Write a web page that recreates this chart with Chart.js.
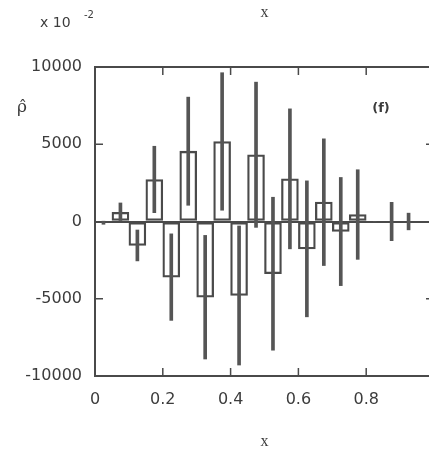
<!DOCTYPE html>
<html>
<head>
<meta charset="utf-8">
<script src="https://cdn.jsdelivr.net/npm/chart.js@4"></script>
<style>
  html, body { margin: 0; padding: 0; background: #fff; overflow: hidden; }
  #wrap { width: 448px; height: 454px; }
</style>
</head>
<body>
<div id="wrap"><canvas id="myChart" width="448" height="454"></canvas></div>
<script>
// bin centres (width 0.05), bin contents and their errors
var binCenters = [0.025, 0.075, 0.125, 0.175, 0.225, 0.275, 0.325, 0.375, 0.425, 0.475,
                  0.525, 0.575, 0.625, 0.675, 0.725, 0.775, 0.825, 0.875, 0.925];
var binValues = [-80, 600, -1550, 2720, -3600, 4550, -4900, 5180, -4790, 4320,
                 -3380, 2760, -1770, 1250, -650, 450, 0, 0, 0];
var binErrors = [100, 600, 1000, 2150, 2800, 3500, 4000, 4450, 4500, 4700,
                 4950, 4530, 4400, 4100, 3500, 2900, 0, 1240, 540];
var xTicks = [0, 0.2, 0.4, 0.6, 0.8, 1];
var yTicks = [-10000, -5000, 0, 5000, 10000];

var lineCol = '#4a4a4a';
var textCol = '#3c3c3c';

// Boxes of the histogram
var boxData = binCenters.map(function(x, i) {
  return { x: x, y: binValues[i] };
});
// Error bars drawn as thin floating bars
var errData = binCenters.map(function(x, i) {
  return { x: x, y: [binValues[i] - binErrors[i], binValues[i] + binErrors[i]] };
});

// Frame, inward ticks and free text
var framePlugin = {
  id: 'frame',
  afterDatasetsDraw: function(chart) {
    var ctx = chart.ctx;
    var a = chart.chartArea;
    var xs = chart.scales.x, ys = chart.scales.y;
    ctx.save();
    ctx.strokeStyle = lineCol;
    ctx.lineWidth = 2;
    ctx.strokeRect(a.left, a.top, a.right - a.left, a.bottom - a.top);

    ctx.lineWidth = 1.5;
    ctx.beginPath();
    xTicks.forEach(function(v) {
      if (v === 0 || v === 1) return;
      var px = xs.getPixelForValue(v);
      ctx.moveTo(px, a.bottom); ctx.lineTo(px, a.bottom - 8);
      ctx.moveTo(px, a.top); ctx.lineTo(px, a.top + 8);
    });
    yTicks.forEach(function(v) {
      if (v === 10000 || v === -10000 || v === 0) return;
      var py = ys.getPixelForValue(v);
      ctx.moveTo(a.left, py); ctx.lineTo(a.left + 8, py);
      ctx.moveTo(a.right, py); ctx.lineTo(a.right - 8, py);
    });
    ctx.stroke();

    ctx.fillStyle = textCol;
    ctx.textBaseline = 'middle';
    ctx.textAlign = 'left';
    ctx.font = '14px "DejaVu Sans"';
    ctx.fillText('x 10', 40, 23);
    ctx.font = '10px "DejaVu Sans"';
    ctx.fillText('-2', 84, 15);

    ctx.textAlign = 'center';
    ctx.font = '16px "Liberation Serif"';
    var mid = xs.getPixelForValue(0.5);
    ctx.fillText('x', mid, 13);
    ctx.fillText('x', mid, 442);
    ctx.font = '17px "DejaVu Serif"';
    ctx.fillText('\u03C1\u0302', 22, 108);
    ctx.font = 'bold 13px "DejaVu Sans"';
    ctx.fillText('(f)', 381, 109);
    ctx.restore();
  }
};

var myChart = new Chart(document.getElementById('myChart').getContext('2d'), {
  type: 'bar',
  data: {
    datasets: [{
      label: 'error',
      data: errData,
      backgroundColor: '#555555',
      borderWidth: 0,
      barThickness: 3,
      grouped: false
    }, {
      label: 'bins',
      data: boxData,
      backgroundColor: 'rgba(0,0,0,0)',
      borderColor: lineCol,
      borderWidth: 1.6,
      borderSkipped: false,
      categoryPercentage: 1,
      barPercentage: 1,
      grouped: false
    }]
  },
  options: {
    responsive: false,
    animation: false,
    layout: { padding: { left: 0, right: 6.5, top: 67, bottom: 38 } },
    plugins: {
      legend: { display: false },
      tooltip: { enabled: false }
    },
    scales: {
      x: {
        type: 'linear',
        min: 0,
        max: 1,
        offset: false,
        afterBuildTicks: function(scale) {
          scale.ticks = xTicks.map(function(v) { return { value: v }; });
        },
        afterFit: function(scale) { scale.height = 40; },
        grid: { display: false, offset: false, drawTicks: false },
        border: { display: false },
        ticks: {
          padding: 14,
          color: textCol,
          font: { family: 'DejaVu Sans', size: 16 },
          maxRotation: 0,
          callback: function(v) { return v === 1 ? '' : (v === 0 ? '0' : v.toFixed(1)); }
        }
      },
      y: {
        min: -10000,
        max: 10000,
        beginAtZero: false,
        afterBuildTicks: function(scale) {
          scale.ticks = yTicks.map(function(v) { return { value: v }; });
        },
        afterFit: function(scale) { scale.width = 95; },
        grid: {
          drawTicks: false,
          lineWidth: 2,
          color: function(c) { return c.tick && c.tick.value === 0 ? lineCol : 'rgba(0,0,0,0)'; }
        },
        border: { display: false },
        ticks: {
          padding: 13,
          color: textCol,
          font: { family: 'DejaVu Sans', size: 16 },
          callback: function(v) { return String(v); }
        }
      }
    }
  },
  plugins: [framePlugin]
});
</script>
</body>
</html>
